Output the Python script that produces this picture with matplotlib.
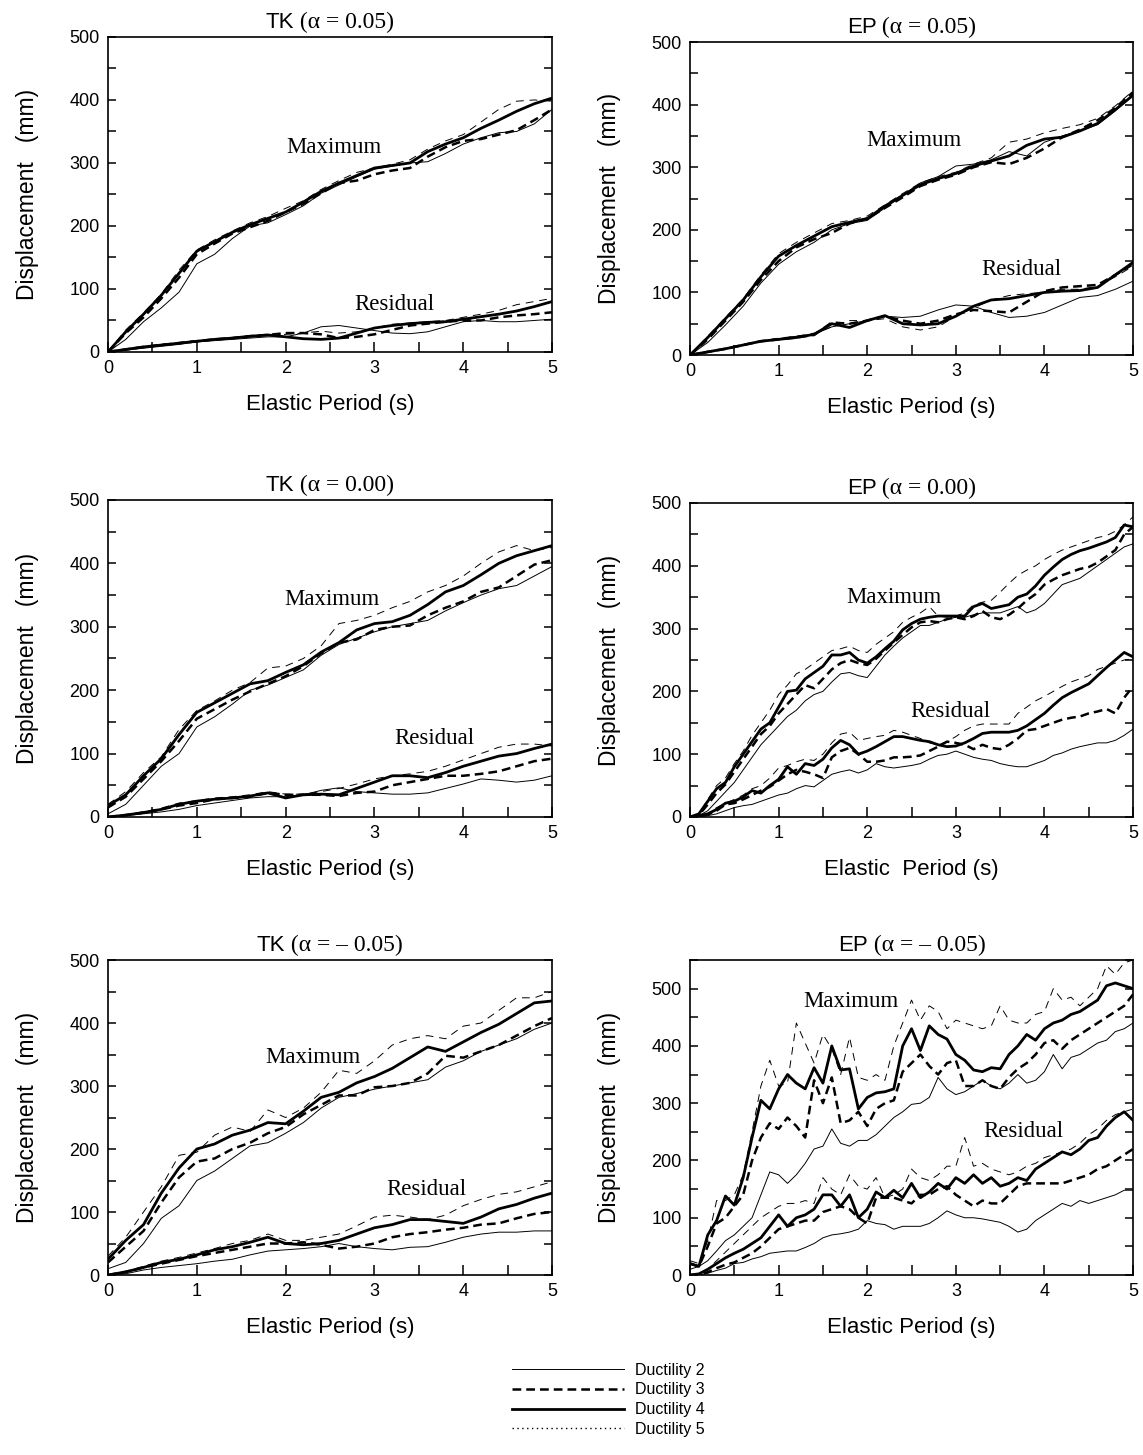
import matplotlib
matplotlib.use("Agg")
import matplotlib.pyplot as plt
from matplotlib.lines import Line2D
from matplotlib.offsetbox import TextArea, HPacker, AnnotationBbox
from matplotlib.ticker import MultipleLocator
import numpy as np

# elastic period grids (s)
T_COARSE = np.arange(26) * 0.2
T_FINE = np.arange(51) * 0.1

DUCTILITY = ["Ductility 2", "Ductility 3", "Ductility 4", "Ductility 5"]

# rows = ductility 2, 3, 4, 5 ; displacement in mm
tk005_max = [
    [0, 20, 48, 70, 95, 140, 155, 180, 200, 205, 218, 232, 252, 265, 278, 290, 295, 300, 302, 315, 330, 340, 348, 350, 362, 385],
    [0, 30, 55, 85, 118, 155, 172, 188, 198, 208, 222, 235, 252, 268, 272, 282, 288, 292, 310, 325, 335, 338, 345, 352, 368, 385],
    [0, 32, 60, 90, 125, 160, 175, 190, 202, 212, 222, 238, 255, 268, 280, 292, 296, 300, 318, 330, 340, 355, 368, 382, 394, 403],
    [0, 35, 62, 92, 130, 162, 178, 192, 205, 215, 228, 240, 258, 272, 285, 292, 298, 305, 322, 335, 345, 365, 385, 398, 400, 398],
]
tk005_res = [
    [0, 3, 6, 9, 12, 16, 18, 20, 22, 24, 24, 30, 40, 42, 38, 34, 30, 29, 32, 40, 48, 50, 48, 48, 50, 52],
    [0, 4, 8, 11, 14, 17, 20, 22, 25, 27, 30, 30, 28, 22, 24, 28, 35, 42, 45, 48, 50, 50, 55, 58, 60, 63],
    [0, 4, 8, 11, 14, 17, 20, 22, 25, 27, 24, 21, 20, 22, 30, 38, 42, 45, 47, 48, 52, 56, 60, 65, 72, 80],
    [0, 4, 8, 12, 15, 18, 20, 23, 25, 27, 28, 30, 33, 30, 32, 38, 44, 46, 48, 50, 55, 60, 66, 75, 80, 85],
]

ep005_max = [
    [0, 20, 48, 78, 115, 145, 165, 180, 200, 210, 215, 235, 255, 275, 285, 302, 305, 312, 325, 318, 340, 350, 358, 368, 390, 415],
    [0, 25, 55, 85, 120, 150, 172, 185, 195, 210, 218, 235, 252, 270, 280, 288, 300, 308, 305, 315, 330, 348, 360, 375, 395, 420],
    [0, 28, 58, 88, 125, 158, 175, 190, 205, 212, 218, 238, 255, 272, 282, 290, 302, 310, 318, 335, 345, 348, 358, 370, 392, 415],
    [0, 30, 60, 90, 128, 162, 180, 195, 210, 215, 222, 240, 258, 275, 285, 292, 305, 315, 340, 345, 355, 362, 368, 378, 398, 422],
]
ep005_res = [
    [0, 5, 10, 16, 22, 26, 30, 33, 45, 50, 55, 62, 60, 62, 72, 80, 78, 68, 60, 62, 68, 80, 92, 95, 105, 118],
    [0, 5, 10, 16, 22, 25, 28, 32, 52, 50, 55, 62, 55, 50, 55, 65, 72, 70, 68, 85, 102, 108, 110, 112, 128, 145],
    [0, 5, 10, 16, 22, 25, 28, 33, 50, 44, 55, 63, 50, 48, 50, 62, 78, 88, 90, 95, 100, 102, 103, 108, 128, 148],
    [0, 5, 10, 16, 22, 27, 30, 35, 45, 55, 55, 58, 45, 40, 45, 62, 75, 88, 95, 98, 100, 105, 105, 110, 125, 142],
]

tk000_max = [
    [5, 20, 50, 80, 100, 142, 158, 178, 200, 208, 220, 232, 255, 272, 282, 292, 300, 305, 310, 325, 338, 350, 360, 365, 380, 395],
    [15, 32, 60, 88, 120, 155, 170, 185, 198, 210, 222, 238, 258, 275, 280, 295, 300, 302, 318, 330, 340, 355, 362, 380, 398, 405],
    [18, 35, 65, 92, 130, 165, 180, 195, 210, 215, 228, 240, 260, 275, 295, 305, 308, 318, 335, 355, 365, 382, 400, 412, 420, 428],
    [20, 40, 70, 95, 138, 168, 183, 200, 212, 235, 238, 250, 270, 305, 310, 318, 330, 340, 355, 365, 380, 400, 418, 428, 420, 425],
]
tk000_res = [
    [0, 2, 5, 8, 12, 18, 22, 26, 30, 32, 32, 35, 42, 46, 40, 38, 36, 36, 38, 45, 52, 60, 58, 55, 58, 65],
    [0, 3, 7, 12, 18, 22, 28, 30, 32, 38, 35, 35, 35, 33, 38, 40, 50, 55, 60, 65, 65, 68, 72, 80, 88, 92],
    [0, 3, 7, 12, 20, 25, 28, 30, 33, 38, 30, 35, 36, 35, 45, 55, 65, 65, 62, 70, 80, 88, 96, 100, 108, 115],
    [0, 3, 8, 14, 22, 26, 30, 32, 35, 40, 36, 36, 40, 45, 52, 60, 65, 68, 72, 80, 90, 100, 110, 115, 115, 112],
]

ep000_max = [
    [0, 2, 10, 25, 40, 55, 75, 95, 115, 130, 145, 160, 170, 185, 195, 200, 215, 228, 230, 225, 222, 240, 258, 272, 285, 295,
     305, 305, 310, 315, 318, 318, 322, 325, 325, 325, 330, 335, 325, 330, 340, 355, 370, 375, 380, 390, 400, 410, 420, 430, 435],
    [0, 3, 20, 38, 52, 72, 92, 112, 132, 145, 165, 180, 195, 210, 205, 220, 235, 245, 250, 245, 242, 252, 265, 278, 290, 302,
     310, 312, 310, 315, 318, 315, 320, 328, 318, 315, 322, 332, 345, 355, 370, 378, 385, 390, 395, 398, 405, 415, 425, 450, 462],
    [0, 5, 25, 45, 55, 80, 100, 120, 140, 150, 175, 200, 202, 220, 230, 240, 258, 258, 262, 250, 245, 255, 268, 280, 298, 308,
     315, 318, 320, 320, 320, 320, 335, 340, 332, 335, 338, 350, 355, 368, 385, 398, 410, 418, 424, 428, 433, 438, 445, 465, 462],
    [0, 5, 28, 50, 62, 85, 105, 130, 150, 170, 195, 210, 228, 235, 245, 255, 265, 268, 272, 265, 262, 275, 285, 295, 310, 318,
     325, 335, 320, 318, 320, 325, 338, 342, 345, 358, 372, 385, 393, 400, 410, 418, 425, 430, 435, 440, 445, 448, 455, 465, 478],
]
ep000_res = [
    [0, 0, 2, 5, 10, 15, 18, 20, 25, 30, 35, 38, 45, 50, 48, 58, 68, 72, 75, 70, 75, 85, 80, 78, 80, 82,
     85, 92, 98, 100, 105, 100, 95, 92, 90, 85, 82, 80, 80, 85, 90, 98, 102, 108, 112, 115, 118, 118, 122, 130, 140],
    [0, 1, 4, 10, 20, 22, 28, 35, 42, 48, 58, 68, 75, 72, 68, 62, 95, 105, 110, 100, 88, 88, 90, 95, 95, 96,
     98, 105, 112, 120, 118, 115, 108, 115, 110, 108, 115, 125, 138, 140, 145, 150, 155, 158, 160, 165, 168, 172, 165, 190, 208],
    [0, 2, 5, 12, 22, 25, 32, 42, 38, 50, 60, 80, 68, 85, 82, 92, 110, 122, 115, 100, 105, 112, 120, 128, 128, 125,
     122, 120, 115, 112, 113, 118, 125, 133, 135, 135, 135, 138, 145, 155, 165, 178, 190, 198, 205, 212, 225, 238, 250, 262, 255],
    [0, 2, 5, 15, 22, 28, 35, 45, 50, 62, 78, 82, 88, 92, 90, 100, 118, 132, 135, 122, 125, 128, 130, 138, 135, 130,
     125, 118, 115, 120, 128, 138, 145, 148, 148, 148, 148, 165, 175, 185, 192, 200, 208, 215, 220, 225, 235, 240, 245, 250, 252],
]

tkm005_max = [
    [10, 20, 50, 90, 110, 150, 165, 185, 205, 210, 225, 242, 265, 282, 288, 295, 300, 305, 310, 330, 340, 355, 365, 375, 390, 400],
    [20, 45, 70, 115, 155, 180, 185, 200, 210, 225, 235, 255, 270, 285, 285, 298, 300, 305, 320, 348, 345, 355, 365, 380, 395, 408],
    [25, 55, 80, 130, 170, 200, 208, 222, 230, 242, 240, 260, 282, 290, 305, 315, 328, 345, 362, 355, 370, 385, 398, 415, 432, 435],
    [30, 60, 100, 140, 190, 195, 222, 235, 228, 262, 250, 265, 290, 325, 320, 340, 365, 375, 380, 375, 395, 400, 420, 440, 440, 450],
]
tkm005_res = [
    [0, 2, 8, 12, 15, 18, 22, 25, 32, 38, 40, 42, 45, 50, 45, 42, 40, 44, 45, 52, 60, 65, 68, 68, 70, 70],
    [0, 5, 12, 18, 24, 30, 35, 40, 45, 50, 50, 52, 48, 42, 45, 50, 60, 65, 68, 72, 75, 80, 82, 90, 97, 100],
    [0, 5, 12, 20, 25, 32, 40, 45, 52, 60, 50, 48, 50, 55, 65, 75, 80, 88, 88, 85, 82, 92, 105, 112, 122, 130],
    [0, 5, 14, 22, 28, 35, 42, 50, 55, 65, 55, 55, 60, 65, 78, 92, 95, 92, 88, 95, 110, 120, 128, 132, 140, 148],
]

epm005_max = [
    [10, 15, 25, 42, 60, 70, 85, 100, 140, 180, 175, 160, 175, 195, 220, 225, 255, 230, 225, 235, 235, 245, 260, 275, 285, 298,
     300, 310, 345, 325, 315, 320, 330, 340, 330, 325, 335, 350, 335, 340, 355, 385, 360, 380, 385, 395, 405, 410, 425, 430, 440],
    [20, 15, 50, 90, 100, 120, 140, 200, 240, 265, 255, 275, 260, 240, 340, 300, 345, 265, 270, 285, 260, 290, 300, 305, 355, 370,
     385, 365, 350, 370, 375, 330, 330, 340, 330, 325, 345, 360, 370, 385, 405, 410, 395, 410, 420, 430, 440, 450, 460, 470, 490],
    [20, 15, 70, 95, 138, 122, 170, 240, 305, 290, 325, 350, 335, 325, 362, 335, 400, 358, 360, 290, 310, 318, 320, 325, 400, 430,
     392, 435, 420, 412, 385, 375, 358, 355, 362, 360, 385, 400, 420, 410, 430, 440, 445, 455, 460, 470, 480, 505, 510, 505, 500],
    [25, 20, 60, 130, 130, 140, 175, 250, 330, 375, 330, 335, 440, 405, 370, 420, 395, 350, 415, 345, 340, 350, 340, 400, 440, 480,
     445, 470, 460, 430, 445, 440, 435, 430, 435, 470, 445, 440, 440, 455, 460, 500, 480, 485, 470, 485, 500, 540, 525, 545, 550],
]
epm005_res = [
    [0, 0, 3, 8, 12, 20, 22, 28, 32, 38, 40, 42, 42, 48, 55, 65, 70, 72, 75, 80, 95, 90, 88, 80, 85, 85,
     85, 90, 100, 112, 105, 100, 100, 98, 95, 92, 85, 75, 80, 95, 105, 115, 125, 120, 130, 125, 130, 135, 140, 148, 148],
    [0, 1, 5, 12, 18, 22, 30, 38, 50, 65, 80, 85, 90, 95, 95, 110, 115, 120, 115, 100, 90, 135, 135, 135, 130, 125,
     140, 140, 150, 155, 140, 130, 120, 130, 125, 125, 140, 155, 160, 160, 160, 160, 160, 165, 170, 175, 185, 190, 200, 210, 220],
    [0, 2, 10, 20, 30, 38, 45, 55, 65, 85, 105, 85, 100, 105, 115, 140, 140, 120, 140, 100, 115, 145, 135, 148, 135, 160,
     135, 145, 160, 150, 170, 160, 175, 160, 170, 155, 160, 170, 165, 185, 195, 205, 215, 210, 220, 235, 240, 260, 275, 285, 270],
    [0, 2, 10, 25, 40, 55, 70, 85, 100, 110, 120, 125, 125, 130, 125, 170, 150, 140, 175, 155, 150, 170, 135, 140, 150, 185,
     170, 165, 175, 190, 190, 240, 190, 195, 185, 180, 175, 180, 190, 195, 205, 210, 215, 220, 230, 245, 255, 270, 280, 285, 290],
]

plt.rcParams["font.family"] = "Liberation Sans"

STYLES = [
    dict(color="black", lw=0.7, ls="-"),
    dict(color="black", lw=1.8, ls=(0, (3.5, 2))),
    dict(color="black", lw=2.0, ls="-"),
    dict(color="black", lw=0.7, ls=(0, (8, 6))),
]

fig = plt.figure(figsize=(11.43, 14.55), dpi=100)

# (rect, model, alpha text, T grid, max, res, ymax, Maximum pos, Residual pos, xlabel)
panels = [
    ([0.0945, 0.7581, 0.3885, 0.2165], "TK", "0.05", T_COARSE, tk005_max, tk005_res, 500,
     (2.54, 325), (3.22, 75), "Elastic Period (s)"),
    ([0.6037, 0.7560, 0.3876, 0.2151], "EP", "0.05", T_COARSE, ep005_max, ep005_res, 500,
     (2.53, 343), (3.74, 136), "Elastic Period (s)"),
    ([0.0945, 0.4385, 0.3885, 0.2179], "TK", "0.00", T_COARSE, tk000_max, tk000_res, 500,
     (2.52, 343), (3.67, 123), "Elastic Period (s)"),
    ([0.6037, 0.4385, 0.3876, 0.2158], "EP", "0.00", T_FINE, ep000_max, ep000_res, 500,
     (2.30, 350), (2.94, 168), "Elastic  Period (s)"),
    ([0.0945, 0.1237, 0.3885, 0.2165], "TK", "\u2013 0.05", T_COARSE, tkm005_max, tkm005_res, 500,
     (2.31, 345), (3.58, 135), "Elastic Period (s)"),
    ([0.6037, 0.1237, 0.3876, 0.2165], "EP", "\u2013 0.05", T_FINE, epm005_max, epm005_res, 550,
     (1.82, 477), (3.76, 250), "Elastic Period (s)"),
]

for rect, model, alpha, T, dmax, dres, ymax, pmax, pres, xlab in panels:
    ax = fig.add_axes(rect)
    for i in range(4):
        ax.plot(T, dmax[i], **STYLES[i])
        ax.plot(T, dres[i], **STYLES[i])
    ax.set_xlim(0, 5)
    ax.set_ylim(0, ymax)
    ax.xaxis.set_major_locator(MultipleLocator(1))
    ax.xaxis.set_minor_locator(MultipleLocator(0.5))
    ax.yaxis.set_major_locator(MultipleLocator(100))
    ax.yaxis.set_minor_locator(MultipleLocator(50))
    ax.tick_params(which="both", direction="in", right=True, top=False, width=1.1)
    ax.tick_params(axis="y", which="both", length=6)
    ax.tick_params(axis="x", which="both", length=7.5)
    ax.tick_params(axis="x", labelsize=13, pad=6)
    ax.tick_params(axis="y", labelsize=13, pad=6)
    for s in ax.spines.values():
        s.set_linewidth(1.2)
    ax.set_xlabel(xlab, fontsize=16, labelpad=12)
    ax.set_ylabel("Displacement   (mm)", fontsize=16.5, labelpad=22)
    ax.text(pmax[0], pmax[1], "Maximum", family="Liberation Serif", fontsize=16.5, ha="center", va="center")
    ax.text(pres[0], pres[1], "Residual", family="Liberation Serif", fontsize=16.5, ha="center", va="center")

    # title: model name in sans, alpha part in serif
    t1 = TextArea(model, textprops=dict(family="Liberation Sans", size=16))
    t2 = TextArea(" (\u03b1 = " + alpha + ")", textprops=dict(family="Liberation Serif", size=17))
    box = HPacker(children=[t1, t2], align="baseline", pad=0, sep=0)
    ab = AnnotationBbox(box, (0.5, 1.0), xycoords="axes fraction", xybox=(0, 3),
                        boxcoords="offset points", box_alignment=(0.5, 0), frameon=False, pad=0)
    ax.add_artist(ab)

handles = [
    Line2D([], [], **STYLES[0]),
    Line2D([], [], **STYLES[1]),
    Line2D([], [], **STYLES[2]),
    Line2D([], [], color="black", lw=1.0, ls=(0, (1, 2.5))),
]
fig.legend(handles, DUCTILITY, loc="upper left", bbox_to_anchor=(0.448, 0.0635),
           frameon=False, fontsize=11.5, handlelength=7.0, handletextpad=0.7,
           labelspacing=0.3, borderpad=0, borderaxespad=0)

fig.savefig("out.png", dpi=100)
